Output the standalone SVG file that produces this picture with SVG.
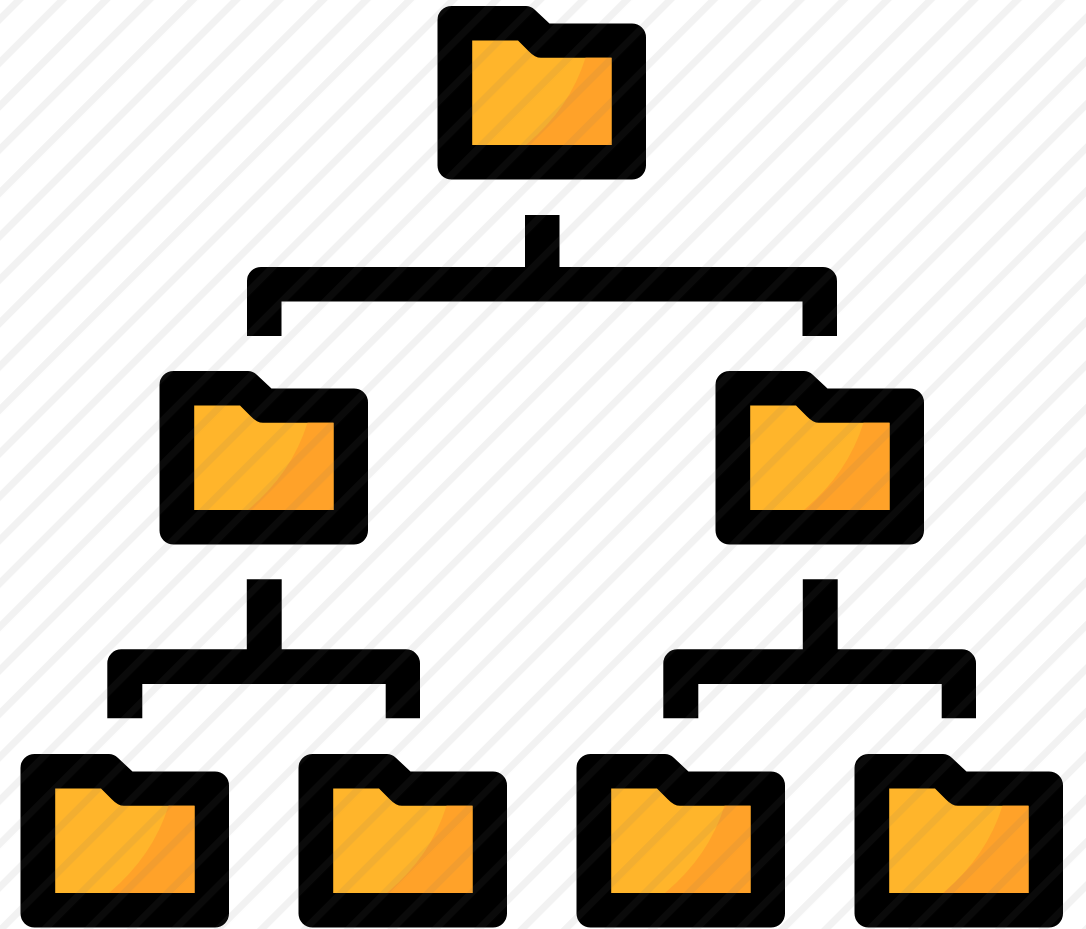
<svg xmlns="http://www.w3.org/2000/svg" width="1086" height="929" viewBox="0 0 1086 929">
  <style>
    .outer { fill: #000; }
    .base { fill: #ffb52b; }
    .shade { fill: #ffa229; }
    .line { fill: #000; }
  </style>
  <defs>
    <filter id="soft" filterUnits="userSpaceOnUse" x="0" y="0" width="1086" height="929" color-interpolation-filters="sRGB">
      <feGaussianBlur stdDeviation="0.7"/>
    </filter>
    <pattern id="stripes" patternUnits="userSpaceOnUse" width="30.69" height="30.69" patternTransform="rotate(45)">
      <rect x="9.9" y="-1" width="7" height="32.69" fill="#6f6f6f" fill-opacity="0.09"/>
    </pattern>
    <g id="folder">
      <path class="outer" d="M451.5 6H526q5 0 8.500 3.500L549.500 23.500H632a14 14 0 0 1 14 14V165.500a14 14 0 0 1-14 14H451.500a14 14 0 0 1-14-14V20a14 14 0 0 1 14-14Z"/>
      <path class="base" d="M472.200 40.500H518L529 51.500q6 6.300 12 6.300H611.500V145H472.200Z"/>
      <path class="shade" d="M585.500 57.800Q570 108 526 145H611.500V57.800Z"/>
    </g>
  </defs>
  <rect width="1086" height="929" fill="#fff"/>
  <g filter="url(#soft)">
    <g id="connectors">
      <path class="line" d="M247 336V281a14 14 0 0 1 14-14H525V215H559.500V267H823a14 14 0 0 1 14 14V336H802.500V301.500H281.500V336Z"/>
      <path class="line" d="M107.300 718.300V663.300a14 14 0 0 1 14-14H246.800V579.300H281.700V649.300H406a14 14 0 0 1 14 14V718.300H385.700V684H142.300V718.300Z"/>
      <path class="line" d="M663.300 718.300V663.300a14 14 0 0 1 14-14H802.800V579.300H837.700V649.300H962a14 14 0 0 1 14 14V718.300H941.700V684H698.300V718.300Z"/>
    </g>
    <g id="folder-root"><use href="#folder"/></g>
    <g id="folder-mid-left"><use href="#folder" transform="translate(-278 365)"/></g>
    <g id="folder-mid-right"><use href="#folder" transform="translate(278 365)"/></g>
    <g id="folder-leaf-1"><use href="#folder" transform="translate(-417 748)"/></g>
    <g id="folder-leaf-2"><use href="#folder" transform="translate(-139 748)"/></g>
    <g id="folder-leaf-3"><use href="#folder" transform="translate(139 748)"/></g>
    <g id="folder-leaf-4"><use href="#folder" transform="translate(417 748)"/></g>
    <rect id="stripe-overlay" width="1086" height="929" fill="url(#stripes)"/>
  </g>
</svg>
